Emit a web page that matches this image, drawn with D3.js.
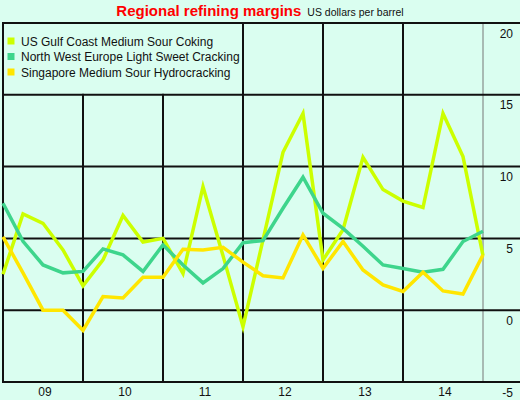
<!DOCTYPE html>
<html><head><meta charset="utf-8">
<script src="https://cdn.jsdelivr.net/npm/d3@7"></script>
<style>
html,body{margin:0;padding:0;background:#dafef0;}
svg{display:block;font-family:"Liberation Sans",Arial,sans-serif;}
</style></head>
<body>
<svg id="chart" width="520" height="400"></svg>
<script>
const years = ["09","10","11","12","13","14"];
const seriesNames = ["US Gulf Coast Medium Sour Coking","North West Europe Light Sweet Cracking","Singapore Medium Sour Hydrocracking"];
const seriesColors = ["#ccff00","#3ed58c","#ffe600"];
const gulf = [2.5,6.7,6.05,4.2,1.7,3.5,6.6,4.75,5.0,2.55,8.6,3.8,-1.15,4.9,11.0,13.7,3.5,5.6,10.65,8.4,7.6,7.15,13.7,10.7,3.8];
const nwe  = [7.45,4.8,3.15,2.6,2.7,4.27,3.85,2.7,4.55,3.15,1.9,2.9,4.7,4.85,7.1,9.26,6.75,5.7,4.45,3.15,2.9,2.65,2.85,4.78,5.5];
const sing = [5.1,2.6,0.0,0.0,-1.4,0.95,0.85,2.3,2.3,4.25,4.2,4.38,3.35,2.4,2.25,5.24,2.92,4.78,2.8,1.76,1.3,2.65,1.34,1.13,3.85];
const yTicks = [-5,0,5,10,15,20];
const title = "Regional refining margins";
const subtitle = "US dollars per barrel";

const svg = d3.select("#chart");
const L = 3, R = 483, T = 23, B = 382, FAR = 520;

const x = d3.scaleLinear().domain([0, gulf.length - 1]).range([L, R]);
const xb = d3.scaleBand().domain(years).range([L, R]);
const y = d3.scaleLinear().domain([-5, 20]).range([B, T]);

svg.append("rect").attr("width",520).attr("height",400).attr("fill","#dafef0");

// vertical grid
const vg = svg.append("g");
[L].concat(years.slice(1).map(d => xb(d))).forEach(v => {
  vg.append("line").attr("x1",v).attr("x2",v).attr("y1",T).attr("y2",B)
    .attr("stroke","#111").attr("stroke-width",2);
});
vg.append("line").attr("x1",R).attr("x2",R).attr("y1",T).attr("y2",B)
  .attr("stroke","#777").attr("stroke-width",1);

// legend background hides grid in its cell
svg.append("rect").attr("x",L+1).attr("y",T+1).attr("width",xb("12")-L-2).attr("height",y(15)-T-2)
  .attr("fill","#dafef0");

// horizontal grid
const hg = svg.append("g");
yTicks.forEach(t => {
  hg.append("line").attr("x1",L-1).attr("x2",FAR).attr("y1",y(t)).attr("y2",y(t))
    .attr("stroke","#111").attr("stroke-width",2);
});

// axes
const ya = svg.append("g").attr("transform",`translate(513,0)`)
  .call(d3.axisRight(y).tickValues(yTicks).tickSize(0).tickFormat(d => String(d)));
ya.select(".domain").remove();
ya.selectAll("text").attr("x",0).attr("dy",14).attr("text-anchor","end")
  .attr("font-size",12).attr("fill","#111").attr("font-family","Liberation Sans, Arial, sans-serif");

const xa = svg.append("g").attr("transform",`translate(2,${B})`)
  .call(d3.axisBottom(xb).tickSize(0));
xa.select(".domain").remove();
xa.selectAll("text").attr("y",0).attr("dy",13.7)
  .attr("font-size",12).attr("fill","#111").attr("font-family","Liberation Sans, Arial, sans-serif");

// lines
const line = d3.line().x((d,i) => x(i)).y(d => y(d));
[gulf, nwe, sing].forEach((s, k) => {
  svg.append("path").datum(s).attr("d", line).attr("fill","none")
    .attr("stroke", seriesColors[k]).attr("stroke-width",3.5)
    .attr("stroke-linejoin","miter").attr("stroke-miterlimit",10);
});

// legend
const lg = svg.append("g");
seriesNames.forEach((n, k) => {
  lg.append("rect").attr("x",7.5).attr("y",37.5 + k*15.5).attr("width",7).attr("height",7)
    .attr("fill", seriesColors[k]);
  lg.append("text").attr("x",21).attr("y",45.5 + k*15.5).attr("font-size",12)
    .attr("fill","#111").text(n);
});

// title
const tg = svg.append("g");
const t1 = tg.append("text").attr("y",16).attr("font-size",15).attr("font-weight","bold")
  .attr("fill","#ff0000").text(title);
const t2 = tg.append("text").attr("y",16).attr("font-size",10.5).attr("fill","#111").text(subtitle);
const w1 = t1.node().getComputedTextLength(), w2 = t2.node().getComputedTextLength();
const start = 260 - (w1 + 6 + w2) / 2;
t1.attr("x", start);
t2.attr("x", start + w1 + 6);
</script>
</body></html>
